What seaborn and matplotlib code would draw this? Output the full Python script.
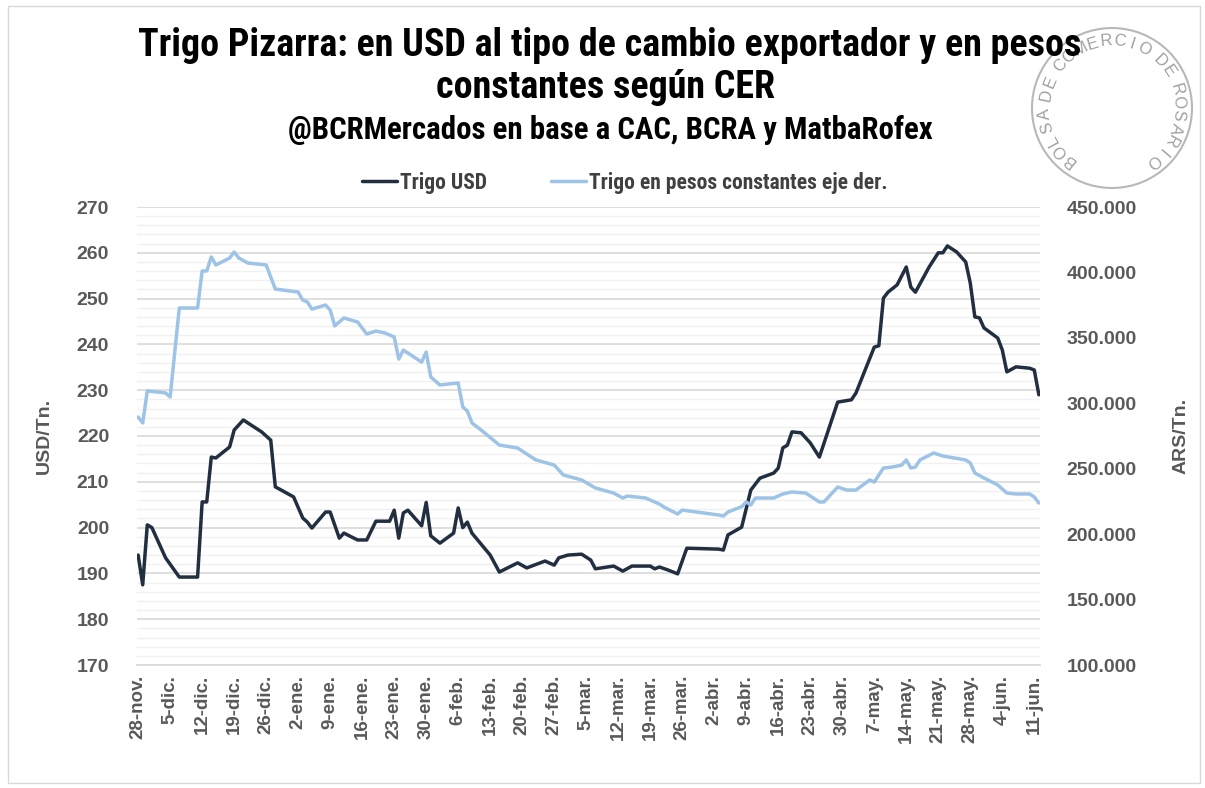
import numpy as np
import pandas as pd
import seaborn as sns
import matplotlib.pyplot as plt
from matplotlib import font_manager
from matplotlib.ticker import MultipleLocator, FuncFormatter
from matplotlib.patches import Circle, Rectangle

# Trigo Pizarra en USD (eje izquierdo)
fechas_usd = [
    "2023-11-28", "2023-11-29", "2023-11-30", "2023-12-01", "2023-12-04", "2023-12-07",
    "2023-12-11", "2023-12-12", "2023-12-13", "2023-12-14", "2023-12-15", "2023-12-18",
    "2023-12-19", "2023-12-21", "2023-12-25", "2023-12-27", "2023-12-28", "2024-01-01",
    "2024-01-03", "2024-01-04", "2024-01-05", "2024-01-08", "2024-01-09", "2024-01-11",
    "2024-01-12", "2024-01-15", "2024-01-17", "2024-01-19", "2024-01-22", "2024-01-23",
    "2024-01-24", "2024-01-25", "2024-01-26", "2024-01-29", "2024-01-30", "2024-01-31",
    "2024-02-02", "2024-02-05", "2024-02-06", "2024-02-07", "2024-02-08", "2024-02-09",
    "2024-02-13", "2024-02-15", "2024-02-19", "2024-02-21", "2024-02-25", "2024-02-27",
    "2024-02-28", "2024-03-01", "2024-03-04", "2024-03-06", "2024-03-07", "2024-03-11",
    "2024-03-13", "2024-03-15", "2024-03-19", "2024-03-20", "2024-03-21", "2024-03-23",
    "2024-03-25", "2024-03-27", "2024-04-03", "2024-04-04", "2024-04-05", "2024-04-08",
    "2024-04-10", "2024-04-12", "2024-04-15", "2024-04-16", "2024-04-17", "2024-04-18",
    "2024-04-19", "2024-04-21", "2024-04-23", "2024-04-25", "2024-04-29", "2024-05-02",
    "2024-05-03", "2024-05-07", "2024-05-08", "2024-05-09", "2024-05-10", "2024-05-12",
    "2024-05-14", "2024-05-15", "2024-05-16", "2024-05-19", "2024-05-21", "2024-05-22",
    "2024-05-23", "2024-05-25", "2024-05-27", "2024-05-28", "2024-05-29", "2024-05-30",
    "2024-05-31", "2024-06-03", "2024-06-04", "2024-06-05", "2024-06-07", "2024-06-10",
    "2024-06-11", "2024-06-12",
]
trigo_usd = [
    194.0, 187.5, 200.6, 200.0, 193.4, 189.2,
    189.2, 205.6, 205.6, 215.4, 215.2, 217.6,
    221.3, 223.5, 220.9, 219.1, 208.9, 206.7,
    202.1, 201.2, 199.9, 203.4, 203.4, 197.7,
    198.8, 197.3, 197.3, 201.4, 201.4, 203.8,
    197.7, 203.2, 203.8, 200.4, 205.5, 198.2,
    196.6, 198.8, 204.3, 200.0, 201.2, 198.8,
    194.0, 190.3, 192.3, 191.2, 192.7, 191.8,
    193.4, 194.0, 194.2, 192.9, 191.0, 191.6,
    190.5, 191.6, 191.6, 191.0, 191.4, 190.7,
    189.9, 195.5, 195.3, 195.1, 198.4, 200.1,
    208.2, 210.8, 211.9, 213.0, 217.4, 218.0,
    220.9, 220.7, 218.5, 215.4, 227.4, 227.9,
    229.4, 239.4, 239.7, 250.1, 251.4, 253.0,
    256.9, 252.5, 251.4, 256.9, 260.0, 260.0,
    261.5, 260.2, 258.0, 253.4, 246.0, 245.8,
    243.6, 241.4, 238.8, 234.0, 235.1, 234.8,
    234.4, 229.0,
]

# Trigo en pesos constantes segun CER (eje derecho)
fechas_ars = [
    "2023-11-28", "2023-11-29", "2023-11-30", "2023-12-04", "2023-12-05", "2023-12-07",
    "2023-12-11", "2023-12-12", "2023-12-13", "2023-12-14", "2023-12-15", "2023-12-18",
    "2023-12-19", "2023-12-20", "2023-12-22", "2023-12-26", "2023-12-28", "2024-01-02",
    "2024-01-03", "2024-01-04", "2024-01-05", "2024-01-08", "2024-01-09", "2024-01-10",
    "2024-01-12", "2024-01-15", "2024-01-17", "2024-01-19", "2024-01-21", "2024-01-23",
    "2024-01-24", "2024-01-25", "2024-01-27", "2024-01-29", "2024-01-30", "2024-01-31",
    "2024-02-02", "2024-02-06", "2024-02-07", "2024-02-08", "2024-02-09", "2024-02-11",
    "2024-02-15", "2024-02-19", "2024-02-23", "2024-02-27", "2024-02-29", "2024-03-04",
    "2024-03-07", "2024-03-11", "2024-03-13", "2024-03-14", "2024-03-18", "2024-03-21",
    "2024-03-22", "2024-03-25", "2024-03-26", "2024-04-03", "2024-04-04", "2024-04-05",
    "2024-04-08", "2024-04-09", "2024-04-10", "2024-04-11", "2024-04-15", "2024-04-17",
    "2024-04-19", "2024-04-22", "2024-04-25", "2024-04-26", "2024-04-29", "2024-05-01",
    "2024-05-03", "2024-05-06", "2024-05-07", "2024-05-09", "2024-05-11", "2024-05-13",
    "2024-05-14", "2024-05-15", "2024-05-16", "2024-05-17", "2024-05-20", "2024-05-22",
    "2024-05-27", "2024-05-28", "2024-05-29", "2024-05-31", "2024-06-03", "2024-06-05",
    "2024-06-07", "2024-06-10", "2024-06-11", "2024-06-12",
]
trigo_ars = [
    289500, 285000, 309400, 307900, 304800, 372800,
    372800, 401100, 401100, 411800, 405700, 411000,
    415600, 411000, 407200, 405700, 387300, 385000,
    378900, 377400, 372000, 375100, 371300, 359100,
    365200, 362100, 352900, 355200, 353700, 350700,
    333800, 340700, 336100, 331500, 339200, 320100,
    314000, 315500, 297200, 294100, 285000, 279600,
    268100, 265800, 256700, 252800, 245200, 241400,
    235300, 231400, 227600, 229100, 227600, 223000,
    220700, 215400, 218400, 214600, 213900, 216900,
    221000, 224600, 222300, 227600, 227600, 230700,
    232200, 231400, 224600, 224600, 236000, 233700,
    233700, 241400, 239800, 250500, 251300, 252800,
    256700, 250500, 251300, 256700, 262000, 259700,
    256700, 254400, 246700, 242900, 237600, 231400,
    230700, 230700, 228400, 223800,
]

meses = ["ene", "feb", "mar", "abr", "may", "jun", "jul", "ago", "sep", "oct", "nov", "dic"]
titulo_1 = "Trigo Pizarra: en USD al tipo de cambio exportador y en pesos"
titulo_2 = "constantes según CER"
subtitulo = "@BCRMercados en base a CAC, BCRA y MatbaRofex"
serie_usd = "Trigo USD"
serie_ars = "Trigo en pesos constantes eje der."
sello = "BOLSA DE COMERCIO DE ROSARIO"

df_usd = pd.DataFrame({"fecha": pd.to_datetime(fechas_usd), "valor": trigo_usd})
df_ars = pd.DataFrame({"fecha": pd.to_datetime(fechas_ars), "valor": trigo_ars})

sns.set_theme(style="white")
plt.rcParams["font.family"] = ["Liberation Sans", "DejaVu Sans"]


def primera_fuente(candidatas):
    for nombre in candidatas:
        try:
            font_manager.findfont(font_manager.FontProperties(family=nombre), fallback_to_default=False)
            return nombre
        except ValueError:
            continue
    return "DejaVu Sans"


narrow = [primera_fuente(["Liberation Sans Narrow", "Arial Narrow", "Roboto Condensed",
                          "Open Sans Condensed", "Liberation Sans"]), "DejaVu Sans"]

color_usd = "#222f40"
color_ars = "#9dc3e6"
gris = "#595959"

W, H = 1205, 788
fig = plt.figure(figsize=(W / 100, H / 100), dpi=100)
ax = fig.add_axes([137 / W, 1 - 665 / H, (1040 - 137) / W, (665 - 207) / H])
ax2 = ax.twinx()

sns.lineplot(data=df_usd, x="fecha", y="valor", ax=ax, color=color_usd, linewidth=2.5,
             label=serie_usd, legend=False)
sns.lineplot(data=df_ars, x="fecha", y="valor", ax=ax2, color=color_ars, linewidth=2.5,
             label=serie_ars, legend=False)

ax.set_ylim(170, 270)
ax.yaxis.set_major_locator(MultipleLocator(10))
ax.yaxis.set_minor_locator(MultipleLocator(2))
ax.grid(True, which="major", axis="y", color="#d9d9d9", linewidth=1.2)
ax.grid(True, which="minor", axis="y", color="#f0f0f0", linewidth=1.0)
ax.grid(False, axis="x")

ax2.set_ylim(100000, 450000)
ax2.yaxis.set_major_locator(MultipleLocator(50000))
ax2.yaxis.set_major_formatter(FuncFormatter(lambda v, p: f"{int(v):,}".replace(",", ".")))
ax2.grid(False)

inicio = pd.Timestamp("2023-11-28")
ax.set_xlim(inicio - pd.Timedelta(hours=6), pd.Timestamp("2024-06-12") + pd.Timedelta(hours=6))
ticks = pd.date_range(inicio, "2024-06-11", freq="7D")
ax.set_xticks(ticks)
ax.set_xticklabels([f"{d.day}-{meses[d.month - 1]}." for d in ticks], rotation=90)

for a in (ax, ax2):
    for s in a.spines.values():
        s.set_visible(False)
    a.tick_params(which="both", length=0, colors=gris, labelsize=14)
    for lab in a.get_yticklabels() + a.get_xticklabels():
        lab.set_fontweight("bold")
ax.tick_params(axis="x", labelsize=13.5, pad=7)
ax.spines["bottom"].set_visible(True)
ax.spines["bottom"].set_color("#d9d9d9")
ax.tick_params(axis="y", pad=20)
ax2.tick_params(axis="y", pad=19)

ax.set_xlabel("")
ax.set_ylabel("USD/Tn.", color=gris, fontsize=14, fontweight="bold", labelpad=17)
ax2.set_ylabel("ARS/Tn.", color=gris, fontsize=14, fontweight="bold", labelpad=26)

# titulos: se ajusta el tamaño al ancho que ocupan en la lamina original
t1 = fig.text(610 / W, 1 - 45 / H, titulo_1, ha="center", va="center", fontsize=24,
              fontweight="bold", family=narrow, color="black")
t3 = fig.text(610 / W, 1 - 130 / H, subtitulo, ha="center", va="center", fontsize=19,
              fontweight="bold", family=narrow, color="black")
rend = fig.canvas.get_renderer()
t1.set_fontsize(24 * 944 / t1.get_window_extent(rend).width)
t3.set_fontsize(19 * 646 / t3.get_window_extent(rend).width)
fig.text(606 / W, 1 - 88 / H, titulo_2, ha="center", va="center", fontsize=t1.get_fontsize(),
         fontweight="bold", family=narrow, color="black")

h1, l1 = ax.get_legend_handles_labels()
h2, l2 = ax2.get_legend_handles_labels()
fig.legend(h1 + h2, l1 + l2, loc="center", bbox_to_anchor=(625 / W, 1 - 183 / H), ncol=2,
           frameon=False, handlelength=1.6, handletextpad=0.15, columnspacing=3.0,
           prop={"family": narrow, "weight": "bold", "size": 15.5}, labelcolor="#404040")

# sello de la Bolsa de Comercio de Rosario
cx, cy = 1112, H - 108
fig.patches.append(Circle((cx, cy), 80, transform=None, fill=False,
                          edgecolor="#b8b8b8", linewidth=1.5, zorder=0))
pesos = np.array([0.45 if ch == " " else 1.0 for ch in sello])
pos = np.cumsum(pesos) - pesos / 2
angulos = 231 - (231 + 52) * (pos - pos[0]) / (pos[-1] - pos[0])
for ch, ang in zip(sello, angulos):
    if ch == " ":
        continue
    t = np.deg2rad(ang)
    fig.text((cx + 67 * np.cos(t)) / W, (cy + 67 * np.sin(t)) / H, ch, ha="center", va="center",
             rotation=ang - 90, fontsize=12, color="#a0a0a0", zorder=0)

fig.patches.append(Rectangle((8, 5), 1192, 777, transform=None, fill=False,
                             edgecolor="#d9d9d9", linewidth=1.0))

fig.savefig("out.png", dpi=100)
